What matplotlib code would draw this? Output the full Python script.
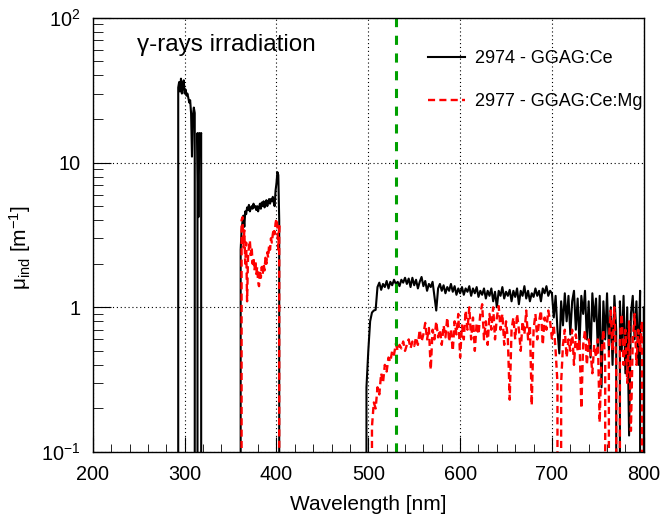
import numpy as np
import matplotlib.pyplot as plt
from matplotlib.ticker import FixedLocator, FuncFormatter

plt.rcParams['font.family'] = ['Liberation Sans', 'DejaVu Sans']
plt.rcParams['mathtext.fontset'] = 'custom'
plt.rcParams['mathtext.rm'] = 'Liberation Sans'
plt.rcParams['mathtext.it'] = 'Liberation Sans:italic'

# ----------------------------------------------------------
# data (mu_ind in 1/m, 0 = below range)
# ----------------------------------------------------------

# 2974 - GGAG:Ce, UV band (1 nm steps)
wl_a = np.arange(290, 321)
ce_a = [0, 0, 0, 33, 36, 31, 38, 30, 34, 37, 30, 32, 29, 30, 28, 26,
        27, 22, 11, 21, 24, 22, 0, 0, 16, 4.2, 16, 15, 16, 0, 0]

# 2974 - GGAG:Ce, 360-405 nm band (1 nm steps)
wl_b = np.arange(358, 406)
ce_b = [0, 0, 0, 2.5, 3.4, 3.9, 4.3, 3.6, 4.6, 4.4, 4.9, 4.7, 5.1, 4.6,
        4.8, 5.0, 4.8, 5.2, 4.9, 5.0, 4.7, 5.0, 4.6, 4.9, 5.2, 4.8, 5.3,
        5.0, 5.4, 4.9, 5.1, 5.5, 5.0, 5.3, 5.6, 5.2, 5.6, 5.4, 5.8, 5.3,
        5.0, 6.4, 7.2, 8.6, 8.2, 4.0, 0, 0]

# 2977 - GGAG:Ce:Mg, 360-405 nm band (1 nm steps)
mg_b = [0, 0, 0, 0, 4.0, 4.2, 2.6, 3.4, 2.0, 2.8, 1.1, 2.2, 2.6, 2.9,
        2.3, 2.6, 2.0, 2.2, 1.8, 2.1, 1.7, 1.9, 1.5, 1.4, 1.8, 1.6, 1.9,
        1.7, 2.0, 1.8, 2.2, 2.0, 2.4, 2.2, 2.7, 2.5, 3.0, 2.8, 3.2, 3.5,
        3.2, 3.8, 4.1, 3.6, 2.5, 3.8, 0, 0]

# visible band, 2 nm steps
wl_c = np.arange(496, 802, 2)
ce_c = [0, 0.28, 0.5, 0.8, 0.92, 0.95, 0.96,
        1.38, 1.48, 1.32, 1.45, 1.38, 1.52, 1.35, 1.5, 1.42, 1.55,
        1.45, 1.5, 1.4, 1.55, 1.48, 1.6, 1.45, 1.58, 1.38, 1.6,
        1.42, 1.55, 1.35, 1.5, 1.62, 1.4, 1.52, 1.3, 1.45, 1.38,
        1.5, 1.2, 0.95, 1.35, 1.45, 1.3, 1.42, 1.25, 1.38, 1.3,
        1.45, 1.28, 1.4, 1.22, 1.35, 1.25,
        1.38, 1.22, 1.35, 1.28, 1.4, 1.2, 1.35, 1.25, 1.38, 1.18,
        1.3, 1.22, 1.35, 1.15, 1.3, 1.2, 1.35, 1.1, 1.28, 1.0,
        1.3, 1.2, 1.38, 1.15, 1.28, 1.2, 1.32, 1.1, 1.3, 1.18,
        1.35, 1.05, 1.3, 1.2, 1.4, 1.15, 1.3, 1.1, 1.25, 1.18,
        1.35, 1.2, 1.3, 1.1, 1.35, 1.25, 1.4, 1.2, 1.3, 1.25,
        0.85, 1.2, 0.7, 0.48, 1.1, 0.75, 1.25, 0.8, 1.2, 0.65,
        1.1, 1.3, 0.7, 1.15, 0.55, 1.2, 0.9, 1.3, 0.6, 1.1,
        0.45, 1.25, 0.8, 1.15, 0.5, 1.2, 0.28, 1.1, 0.6, 1.25,
        0.5, 1.0, 0.4, 1.2, 0.7, 0, 1.1, 0.5, 1.2, 0.35,
        1.0, 0.13, 0.9, 1.2, 0.6, 1.1, 0.4, 1.3, 0, 1.0]
mg_c = [0, 0, 0, 0, 0.15, 0.22, 0.2,
        0.28, 0.25, 0.35, 0.3, 0.4, 0.36, 0.45, 0.42, 0.5, 0.47,
        0.56, 0.5, 0.55, 0.52, 0.58, 0.5, 0.55, 0.6, 0.52, 0.58,
        0.54, 0.62, 0.55, 0.7, 0.58, 0.65, 0.78, 0.6, 0.72, 0.37,
        0.7, 0.6, 0.8, 0.62, 0.7, 0.55, 0.75, 0.62, 0.85, 0.58,
        0.7, 0.5, 0.8, 0.65, 0.9, 0.45,
        0.75, 0.6, 0.95, 0.7, 1.0, 0.6, 0.85, 0.5, 0.78, 0.65,
        0.9, 1.05, 0.6, 0.8, 0.55, 0.9, 0.7, 1.0, 0.6, 0.85,
        1.02, 0.7, 0.9, 0.55, 0.8, 0.6, 0.23, 0.7, 0.85, 0.6,
        0.9, 0.7, 0.5, 0.8, 0.65, 0.95, 0.6, 0.75, 0.21, 0.7,
        0.9, 0.6, 0.8, 0.95, 0.55, 0.85, 0.7, 0.95, 0.8, 0.6,
        0.75, 0.5, 0.3, 0, 0.3, 0.55, 0.7, 0.45, 0.6, 0.5,
        0.7, 0.4, 0.65, 0.5, 0.6, 0.2, 0.55, 0.7, 0.4, 0.6,
        0.5, 0.35, 0.55, 0.45, 0.6, 0.16, 0.5, 0.7, 0.4, 0,
        0.6, 0.95, 0.5, 1.0, 0.4, 0, 0.6, 0.9, 0.4, 0.7,
        0.3, 0.8, 0.14, 0.6, 0.9, 0.4, 0.7, 0.5, 0.8, 0]

cut_wl = 530
label_ce = "2974 - GGAG:Ce"
label_mg = "2977 - GGAG:Ce:Mg"

# ----------------------------------------------------------
# plot
# ----------------------------------------------------------

fig = plt.figure(figsize=(6.63, 5.15), dpi=100)
ax = fig.add_axes([0.140, 0.1223, 0.831, 0.843])

black = dict(color='black', lw=1.5)
red = dict(color='#ff0000', lw=1.7, ls=(0, (3, 1.8)))

ax.plot(wl_a, ce_a, **black, label=label_ce)
ax.plot(wl_b, ce_b, **black)
ax.plot(wl_c, ce_c, **black)
ax.plot(wl_b, mg_b, **red, label=label_mg)
ax.plot(wl_c, mg_c, **red)

ax.axvline(cut_wl, color='#00a000', lw=2.2, ls=(0, (3, 2.8)))

ax.set_yscale('log')
ax.set_xlim(200, 800)
ax.set_ylim(0.1, 100)

ax.xaxis.set_major_locator(FixedLocator(np.arange(200, 801, 100)))
ax.xaxis.set_minor_locator(FixedLocator(np.arange(200, 801, 20)))
dec_labels = {0.1: r'$10^{-1}$', 1: '1', 10: '10', 100: r'$10^{2}$'}
ax.yaxis.set_major_locator(FixedLocator([0.1, 1, 10, 100]))
ax.yaxis.set_major_formatter(FuncFormatter(
    lambda v, p: dec_labels.get(round(v, 1), '')))

ax.tick_params(which='both', direction='in', labelsize=14.3)
ax.tick_params(axis='x', which='major', length=11, pad=9)
ax.tick_params(axis='x', which='minor', length=6)
ax.tick_params(axis='y', which='major', length=13, pad=9)
ax.tick_params(axis='y', which='minor', length=7)

ax.grid(True, which='major', color='black', lw=0.8, ls=(0, (1, 2.5)))
for s in ax.spines.values():
    s.set_linewidth(1.0)

ax.set_xlabel("Wavelength [nm]", fontsize=15)
ax.set_ylabel('\u03bc$_{\\rm ind}$ [m$^{-1}$]', fontsize=15)
ax.xaxis.set_label_coords(0.5, -0.098)
ax.yaxis.set_label_coords(-0.108, 0.47)

ax.text(0.08, 0.938, "\u03b3-rays irradiation", transform=ax.transAxes,
        fontsize=17.5, va='center', ha='left')

ax.legend(loc='upper left', bbox_to_anchor=(0.608, 0.926), frameon=False,
          fontsize=13, handlelength=2.05, handletextpad=0.55,
          labelspacing=1.45, borderpad=0, borderaxespad=0)

fig.savefig('out.png', dpi=100)
